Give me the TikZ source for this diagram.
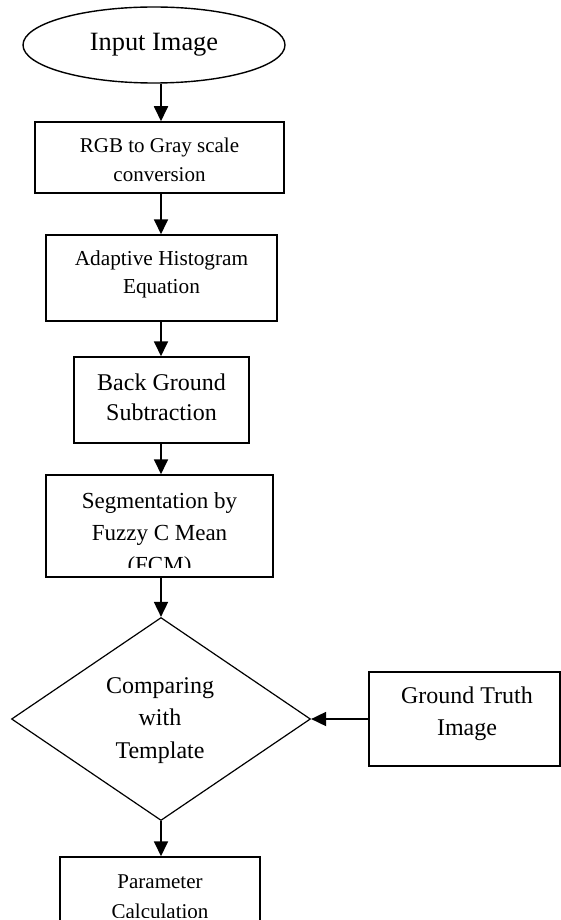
\documentclass[tikz,border=0pt]{standalone}
\usepackage{fontspec}
\setmainfont{Liberation Serif}
\usetikzlibrary{shapes.geometric,arrows.meta}
\tikzset{
  boxnode/.style={draw, rectangle, line width=1.5pt, inner sep=0pt},
  txt/.style={align=center, anchor=base, inner sep=0pt},
  arr/.style={-{Triangle[length=15pt,width=14pt]}, line width=1.8pt},
  fs/.style n args={2}{font=\fontsize{#1pt}{#2pt}\selectfont}
}
\begin{document}
\begin{tikzpicture}[x=1pt,y=-1pt]
\useasboundingbox (0,0) rectangle (561,920);
% nodes
\node[draw, ellipse, line width=1.4pt, minimum width=262pt, minimum height=76pt, inner sep=0pt, fs={26.4}{30}] (inp) at (154,45) {\raisebox{-3pt}{Input Image}};
\node[boxnode, minimum width=249pt, minimum height=71pt] (b1) at (159.5,157.5) {};
\node[txt, fs={21}{29}] (b1t) at (159.5,182) {RGB to Gray scale\\conversion};
\node[boxnode, minimum width=231pt, minimum height=86pt] (b2) at (161.5,278) {};
\node[txt, fs={21.3}{28}] (b2t) at (161.5,293) {Adaptive Histogram\\Equation};
\node[boxnode, minimum width=175pt, minimum height=86pt] (b3) at (161.5,400) {};
\node[txt, fs={24}{30}] (b3t) at (161.5,420) {Back Ground\\Subtraction};
\node[boxnode, minimum width=227pt, minimum height=102pt] (b4) at (159.5,526) {};
\begin{scope}
\clip (40,470) rectangle (280,567);
\node[txt, fs={23}{32}] (b4t) at (159.5,572) {Segmentation by\\Fuzzy C Mean\\(FCM)};
\end{scope}
\node[draw, diamond, line width=1.2pt, minimum width=299pt, minimum height=203pt, inner sep=0pt] (dia) at (161,719) {};
\node[txt, fs={24}{32.5}] (diat) at (160,758) {Comparing\\with\\Template};
\node[boxnode, minimum width=191pt, minimum height=94pt] (gt) at (464.5,719) {};
\node[txt, fs={24}{32}] (gtt) at (467,735) {Ground Truth\\Image};
\node[boxnode, minimum width=200pt, minimum height=90pt] (pc) at (160,902) {};
\begin{scope}
\clip (50,850) rectangle (270,917);
\node[txt, fs={21}{30}] (pct) at (160,918) {Parameter\\Calculation};
\end{scope}
% connectors
\coordinate (ax) at (161,0);
\draw[arr] (inp.south -| ax) -- (b1.north -| ax);
\draw[arr] (b1.south -| ax) -- (b2.north -| ax);
\draw[arr] (b2.south -| ax) -- (b3.north -| ax);
\draw[arr] (b3.south -| ax) -- (b4.north -| ax);
\draw[arr] (b4.south -| ax) -- (dia.north);
\draw[arr] (gt.west) -- (dia.east);
\draw[arr] (dia.south) -- (pc.north -| ax);
\end{tikzpicture}
\end{document}
